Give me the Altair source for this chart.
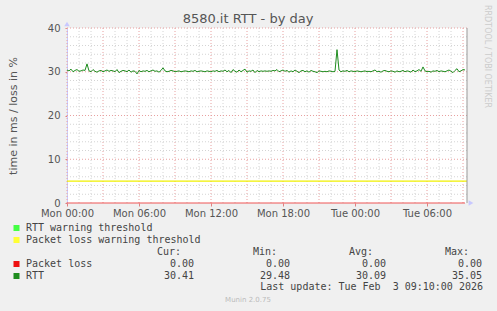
import altair as alt
import pandas as pd

# ---- data ----
rtt_values = [
    30.4, 30.2, 30.6, 30.0, 30.3, 30.5, 30.1, 30.2, 30.4,
    30.3, 31.8, 30.2, 30.0, 30.5, 30.1, 29.9, 30.2, 30.3, 30.0,
    30.2, 30.4, 30.1, 30.3, 30.2, 30.0, 30.5, 29.8, 30.1, 30.3,
    30.2, 30.0, 30.4, 29.9, 30.2, 30.1, 29.5, 30.3, 30.0, 30.2,
    30.1, 30.3, 30.0, 30.2, 30.4, 30.1, 30.2, 29.9, 30.3, 30.9,
    30.2, 30.0, 30.1, 30.3, 30.2, 30.0, 30.1, 30.2, 30.0, 30.1,
    30.2, 30.1, 30.0, 30.2, 30.1, 30.3, 30.0, 30.1, 30.2, 30.1,
    30.0, 30.2, 30.1, 30.0, 30.2, 30.1, 30.3, 30.0, 30.2, 30.1,
    30.4, 30.0, 30.3, 29.8, 30.5, 30.1, 29.9, 30.4, 30.0, 30.3,
    30.6, 29.9, 30.2, 30.1, 30.4, 29.8, 30.3, 30.0, 30.2, 30.1,
    30.2, 30.1, 30.2, 30.1, 30.3, 30.2, 30.5, 30.0, 30.2, 30.4,
    30.1, 30.3, 29.9, 30.2, 30.0, 30.4, 30.1, 29.8, 30.2, 30.3,
    30.0, 30.2, 29.9, 30.3, 30.1, 30.0, 29.8, 30.2, 30.1, 30.0,
    30.1, 30.0, 30.2, 30.1, 30.0, 30.1, 35.05, 30.4, 30.0, 30.2,
    30.1, 30.3, 30.0, 30.2, 30.1, 30.0, 30.2, 30.1, 30.0, 30.1,
    30.2, 30.0, 30.1, 30.0, 30.2, 30.4, 30.0, 30.1, 29.9, 30.2,
    30.3, 30.1, 30.0, 30.2, 30.1, 29.9, 30.2, 30.0, 30.1, 30.3,
    30.0, 30.2, 30.1, 29.9, 30.4, 30.0, 30.2, 30.5, 30.1, 31.1,
    30.2, 30.0, 30.1, 29.9, 30.2, 30.1, 30.3, 30.0, 30.2, 30.1,
    30.0, 30.2, 30.4, 30.1, 29.8, 30.3, 30.7, 30.0, 30.2, 30.5,
    30.41,
]
loss_values = [0.0] * len(rtt_values)
loss_warning = 5
span_hours = 33 + 20 / 60          # Mon 00:00 .. Tue 09:20
x_tick_hours = [0, 6, 12, 18, 24, 30]
x_tick_labels = ["Mon 00:00", "Mon 06:00", "Mon 12:00", "Mon 18:00", "Tue 00:00", "Tue 06:00"]
y_ticks = [0, 10, 20, 30, 40]
y_minor = [v for v in range(2, 40, 2) if v % 10 != 0]

legend_items = ["RTT warning threshold", "Packet loss warning threshold"]
legend_colors = ["#44ff44", "#ffff33"]
series_names = ["Packet loss", "RTT"]
series_colors = ["#ee1111", "#1e8c1e"]
col_heads = ["Cur:", "Min:", "Avg:", "Max:"]
stats = [["0.00", "0.00", "0.00", "0.00"], ["30.41", "29.48", "30.09", "35.05"]]
last_update = "Last update: Tue Feb\u00a0 3 09:10:00 2026"

# samples every 10 minutes from Mon 00:00
df = pd.DataFrame({"h": [i / 6 for i in range(len(rtt_values))], "rtt": rtt_values, "loss": loss_values})

hour_marks = list(range(0, 34))
vg = pd.DataFrame({"h": hour_marks, "major": [h % 3 == 0 for h in hour_marks]})
hg = pd.DataFrame({"v": y_minor + y_ticks[1:], "major": [False] * len(y_minor) + [True] * 4})

xscale = alt.Scale(domain=[0, span_hours], nice=False, zero=False)
yscale = alt.Scale(domain=[0, 40], nice=False)

label_expr = " : ".join(f"datum.value == {h} ? '{l}'" for h, l in zip(x_tick_hours, x_tick_labels)) + " : ''"

xaxis = alt.Axis(
    title=None, values=list(range(0, 34, 3)), grid=False, domain=False,
    labelExpr=label_expr,
    labelFont="DejaVu Sans", labelFontSize=10, labelColor="#555555",
    tickColor="#e08080", tickSize=3, labelPadding=2, labelFlush=False, labelOverlap=False,
)
yaxis = alt.Axis(
    title="time in ms / loss in %", values=y_ticks, grid=False,
    labelFont="DejaVu Sans", labelFontSize=10, labelColor="#555555",
    titleFont="DejaVu Sans", titleFontSize=11, titleColor="#555555", titleFontWeight="normal",
    domainColor="#c8c8ff", tickColor="#e08080", tickSize=2, labelPadding=5, titlePadding=29,
)

vminor = alt.Chart(vg).transform_filter("!datum.major").mark_rule(
    color="#d4d4d4", strokeDash=[1, 2], strokeWidth=1).encode(x=alt.X("h:Q", scale=xscale, axis=xaxis))
vmajor = alt.Chart(vg).transform_filter("datum.major").mark_rule(
    color="#e8a0a0", strokeDash=[1, 2], strokeWidth=1).encode(x=alt.X("h:Q", scale=xscale))
hminor = alt.Chart(hg).transform_filter("!datum.major").mark_rule(
    color="#d4d4d4", strokeDash=[1, 2], strokeWidth=1).encode(y=alt.Y("v:Q", scale=yscale, axis=yaxis))
hmajor = alt.Chart(hg).transform_filter("datum.major").mark_rule(
    color="#e8a0a0", strokeDash=[1, 2], strokeWidth=1).encode(y=alt.Y("v:Q", scale=yscale))

warn = alt.Chart(pd.DataFrame({"v": [loss_warning]})).mark_rule(color="#f0f000", strokeWidth=1.2).encode(
    y=alt.Y("v:Q", scale=yscale))

rtt_line = alt.Chart(df).mark_line(color="#1e8c1e", strokeWidth=1).encode(
    x=alt.X("h:Q", scale=xscale), y=alt.Y("rtt:Q", scale=yscale))
loss_line = alt.Chart(df).mark_line(color="#ee5555", strokeWidth=1).encode(
    x=alt.X("h:Q", scale=xscale), y=alt.Y("loss:Q", scale=yscale))

one = pd.DataFrame({"a": [0]})
frame = alt.Chart(one).mark_rule(color="#999999", strokeWidth=1).encode(
    x=alt.value(400), y=alt.value(0), y2=alt.value(175))

def marker(shape, x, y, color, size):
    return alt.Chart(one).mark_point(filled=True, opacity=1, size=size, shape=shape, color=color).encode(
        x=alt.value(x), y=alt.value(y))

def txt(text, x, y, align="left", font="DejaVu Sans Mono", size=10, color="#444444", angle=0, baseline="middle"):
    return alt.Chart(pd.DataFrame({"label": [text]})).mark_text(
        align=align, baseline=baseline, font=font, fontSize=size, color=color, angle=angle).encode(
        text="label:N", x=alt.value(x), y=alt.value(y))

layers = [vminor, vmajor, hminor, hmajor, warn, loss_line, rtt_line, frame,
          marker("triangle-up", 0, -4, "#c8c8ff", 30), marker("triangle-right", 404, 175, "#c8c8ff", 30)]
layers.append(txt("8580.it RTT - by day", 181, -9, align="center", font="DejaVu Sans", size=13, color="#555555"))
layers.append(txt("RRDTOOL / TOBI OETIKER", 420, -23, font="DejaVu Sans", size=8, color="#cccccc", angle=90))
layers.append(txt("Munin 2.0.75", 181, 272, align="center", font="DejaVu Sans", size=7, color="#bbbbbb"))

for i, (name, col) in enumerate(zip(legend_items, legend_colors)):
    y = 200 + 12 * i
    layers.append(marker("square", -50.5, y, col, 36))
    layers.append(txt(name, -41, y))
for i, (name, col) in enumerate(zip(series_names, series_colors)):
    y = 236 + 12 * i
    layers.append(marker("square", -50.5, y, col, 36))
    layers.append(txt(name, -41, y))
    for j, val in enumerate(stats[i]):
        layers.append(txt(val, 127 + 96 * j, y, align="right"))
for j, h in enumerate(col_heads):
    layers.append(txt(h, 114 + 96 * j, 224, align="right"))
layers.append(txt(last_update, 416, 259, align="right"))

chart = alt.layer(*layers).properties(
    width=400, height=175,
    autosize=alt.AutoSizeParams(type="none"),
    padding={"left": 67, "top": 28, "right": 30, "bottom": 108},
    background="#f0f0f0",
).configure_view(fill="white", stroke=None)

chart.save("out.html", embed_options={"renderer": "svg", "actions": False})
